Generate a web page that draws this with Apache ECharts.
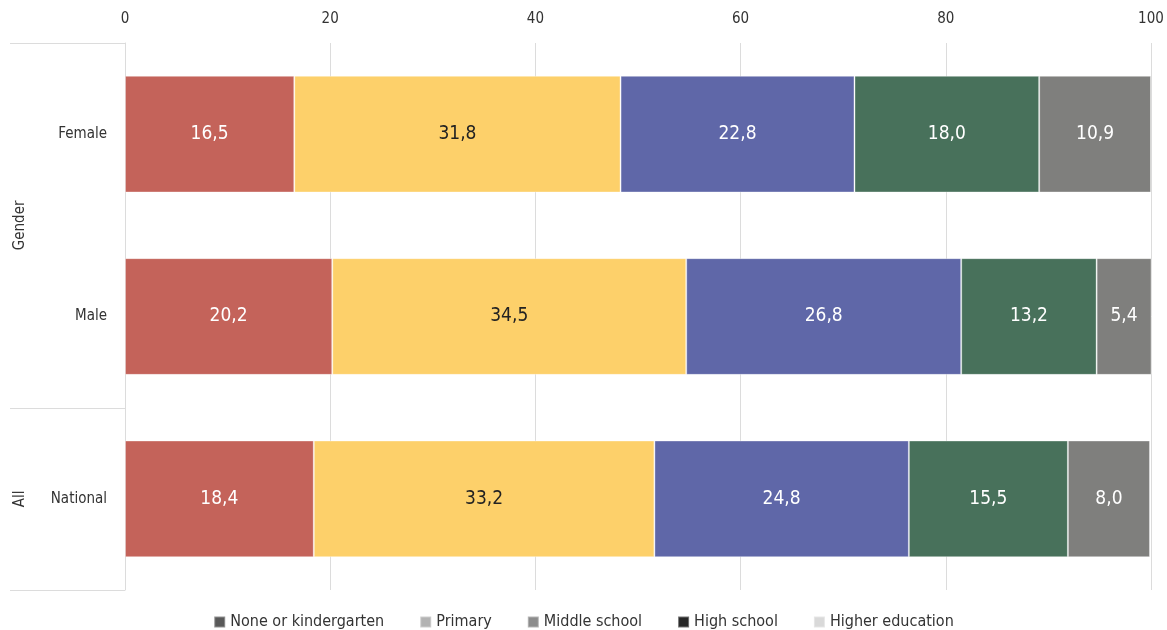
<!DOCTYPE html>
<html><head><meta charset="utf-8">
<script src="https://cdn.jsdelivr.net/npm/echarts@6/dist/echarts.min.js"></script>
<style>html,body{margin:0;padding:0;background:#fff}#c{width:1167px;height:630px}</style>
</head><body><div id="c"></div>
<script>
const categories = ['Female', 'Male', 'National'];
const seriesNames = ['None or kindergarten', 'Primary', 'Middle school', 'High school', 'Higher education'];
const noneVals = [16.5, 20.2, 18.4];
const primaryVals = [31.8, 34.5, 33.2];
const middleVals = [22.8, 26.8, 24.8];
const highVals = [18.0, 13.2, 15.5];
const higherVals = [10.9, 5.4, 8.0];
const xTicks = [0, 20, 40, 60, 80, 100];
const groups = [{name: 'Gender', from: 0, to: 1}, {name: 'All', from: 2, to: 2}];

const FONT = "'Liberation Sans Narrow', 'DejaVu Sans Condensed', sans-serif";
const barColors = ['#C4635A', '#FDD06A', '#5F67A8', '#48715B', '#7F7F7D'];
const labelColors = ['#fff', '#222', '#fff', '#fff', '#fff'];
const legendColors = ['#595959', '#b3b3b3', '#8c8c8c', '#262626', '#d9d9d9'];
const allVals = [noneVals, primaryVals, middleVals, highVals, higherVals];

const chart = echarts.init(document.getElementById('c'));
const option = {
  animation: false,
  textStyle: {fontFamily: FONT},
  grid: {left: 125, right: 16, top: 43, bottom: 40},
  legend: {
    top: 609, left: 'center', itemWidth: 11, itemHeight: 11, itemGap: 35, icon: 'rect',
    textStyle: {fontFamily: FONT, fontSize: 16, color: '#333'},
    data: seriesNames.map((n, i) => ({name: n, itemStyle: {color: legendColors[i]}}))
  },
  xAxis: {
    type: 'value', position: 'top', min: 0, max: 100, interval: 20,
    axisLine: {show: false}, axisTick: {show: false},
    axisLabel: {fontFamily: FONT, fontSize: 15, color: '#333', margin: 16,
      formatter: v => xTicks.includes(v) ? String(v) : ''},
    splitLine: {lineStyle: {color: '#dcdcdc'}}
  },
  yAxis: {
    type: 'category', inverse: true, data: categories,
    axisLine: {lineStyle: {color: '#dcdcdc'}}, axisTick: {show: false},
    axisLabel: {fontFamily: FONT, fontSize: 15, color: '#333', margin: 18}
  },
  series: seriesNames.map((n, i) => ({
    name: n, type: 'bar', stack: 'total', barWidth: '64%', data: allVals[i],
    itemStyle: {color: barColors[i], borderColor: 'rgba(255,255,255,0.35)', borderWidth: 1},
    label: {show: true, position: 'inside', fontFamily: FONT, fontSize: 19, color: labelColors[i],
      formatter: p => p.value.toFixed(1).replace('.', ',')}
  }))
};
chart.setOption(option);

// group brackets on the left
const g = [];
const yOf = i => chart.convertToPixel({yAxisIndex: 0}, categories[i]);
const step = yOf(1) - yOf(0);
const xAxisPix = chart.convertToPixel({xAxisIndex: 0}, 0);
const bounds = new Set();
groups.forEach(gr => {
  const top = yOf(gr.from) - step / 2, bot = yOf(gr.to) + step / 2;
  bounds.add(Math.round(top)); bounds.add(Math.round(bot));
  g.push({type: 'text', x: 20, y: (top + bot) / 2, rotation: Math.PI / 2,
    style: {text: gr.name, fill: '#333', font: '15px ' + FONT, textAlign: 'center', textVerticalAlign: 'middle'}});
});
bounds.forEach(y => g.push({type: 'line', shape: {x1: 10, y1: y + 0.5, x2: xAxisPix, y2: y + 0.5}, style: {stroke: '#dcdcdc', lineWidth: 1}}));
chart.setOption({graphic: g});
</script></body></html>
